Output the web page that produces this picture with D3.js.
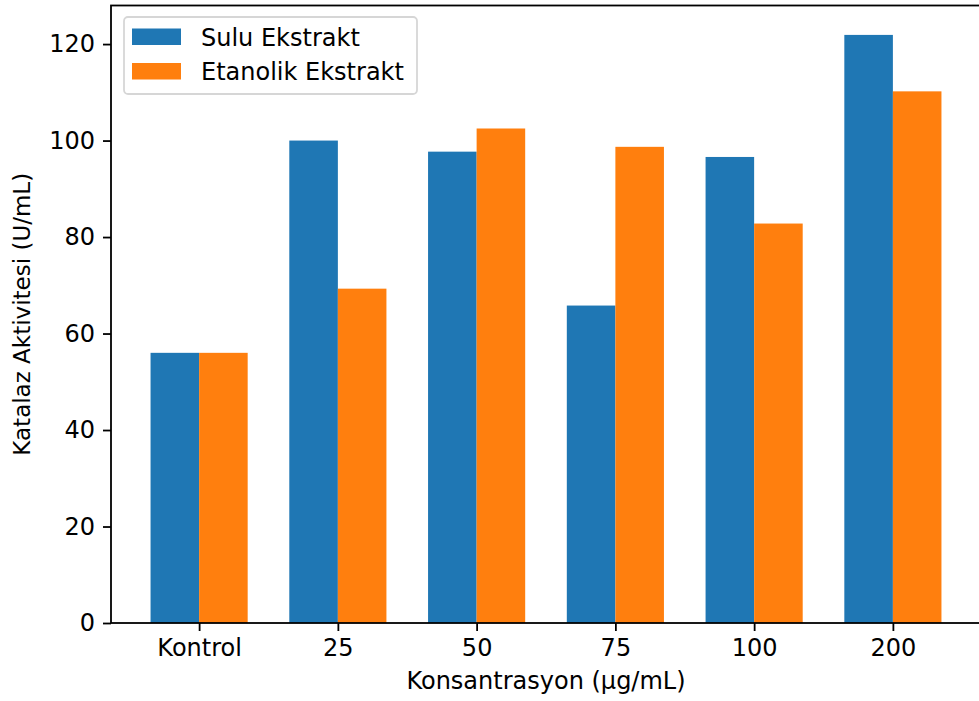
<!DOCTYPE html>
<html>
<head>
<meta charset="utf-8">
<script src="https://cdn.jsdelivr.net/npm/d3@7"></script>
<style>
  body { margin: 0; background: #fff; }
  svg { display: block; font-family: "DejaVu Sans", sans-serif; }
  .axis path, .axis line { stroke: #000; }
  .axis text { fill: #000; }
</style>
</head>
<body>
<div id="chart"><svg></svg></div>
<script>
// Data
const categories = ["Kontrol", "25", "50", "75", "100", "200"];
const seriesNames = ["Sulu Ekstrakt", "Etanolik Ekstrakt"];
const suluValues = [56.0, 100.0, 97.7, 65.8, 96.6, 121.9];
const etanolikValues = [56.0, 69.3, 102.5, 98.7, 82.8, 110.2];
const yTicks = [0, 20, 40, 60, 80, 100, 120];

const colors = ["#1f77b4", "#ff7f0e"];

// Set the dimensions of the canvas / graph
const width = 979;
const height = 701;
const margin = { top: 5.5, right: -2, bottom: 78, left: 111 };
const innerWidth = width - margin.left - margin.right;
const innerHeight = height - margin.top - margin.bottom;
const fontSize = 23;
const wideFont = 24; // horizontal text in the picture is a bit stretched
const barWidth = 0.35;

// x is a linear index scale, like matplotlib's bar positions
const xScale = d3
  .scaleLinear()
  .domain([-0.635, categories.length - 1 + 0.635])
  .range([0, innerWidth]);
const yScale = d3
  .scaleLinear()
  .domain([0, d3.max(suluValues.concat(etanolikValues)) * 1.05])
  .range([innerHeight, 0]);

const svg = d3
  .select("#chart > svg")
  .attr("width", width)
  .attr("height", height);

const g = svg
  .append("g")
  .attr("transform", `translate(${margin.left},${margin.top})`);

// bars, one group per series
const series = [suluValues, etanolikValues];
series.forEach((values, s) => {
  const offset = s === 0 ? -barWidth / 2 : barWidth / 2;
  g.append("g")
    .selectAll("rect")
    .data(values)
    .enter()
    .append("rect")
    .attr("x", (d, i) => xScale(i + offset - barWidth / 2))
    .attr("y", (d) => yScale(d))
    .attr("width", xScale(barWidth) - xScale(0))
    .attr("height", (d) => yScale(0) - yScale(d))
    .attr("fill", colors[s]);
});

// X axis
const xAxis = g
  .append("g")
  .attr("class", "axis")
  .attr("transform", `translate(0,${innerHeight})`)
  .call(
    d3
      .axisBottom(xScale)
      .tickValues(d3.range(categories.length))
      .tickFormat((i) => categories[i])
      .tickSizeInner(8)
      .tickSizeOuter(0)
      .tickPadding(8)
  );
xAxis.select(".domain").remove();
xAxis.selectAll("line").attr("stroke-width", 1.8);
xAxis.selectAll("text").attr("font-size", wideFont).attr("font-family", "DejaVu Sans");

// Y axis
const yAxis = g
  .append("g")
  .attr("class", "axis")
  .call(
    d3
      .axisLeft(yScale)
      .tickValues(yTicks)
      .tickSizeInner(8)
      .tickSizeOuter(0)
      .tickPadding(8)
  );
yAxis.select(".domain").remove();
yAxis.selectAll("line").attr("stroke-width", 1.8);
yAxis.selectAll("text").attr("font-size", wideFont).attr("font-family", "DejaVu Sans");

// spines (right one falls just outside the picture)
g.append("rect")
  .attr("x", 0)
  .attr("y", 0)
  .attr("width", innerWidth)
  .attr("height", innerHeight)
  .attr("fill", "none")
  .attr("stroke", "#000")
  .attr("stroke-width", 1.8);

// X Label
g.append("text")
  .attr("x", innerWidth / 2)
  .attr("y", innerHeight + 66)
  .attr("text-anchor", "middle")
  .attr("font-size", wideFont)
  .attr("fill", "#000")
  .text("Konsantrasyon (µg/mL)");

// Y Label
g.append("text")
  .attr("text-anchor", "middle")
  .attr("transform", "rotate(-90)")
  .attr("x", -innerHeight / 2) // behaves like y because of the rotate
  .attr("y", -81)
  .attr("font-size", fontSize)
  .attr("fill", "#000")
  .text("Katalaz Aktivitesi (U/mL)");

// Legend
const legend = g.append("g").attr("transform", "translate(13,11.5)");
legend
  .append("rect")
  .attr("width", 293)
  .attr("height", 77)
  .attr("rx", 4)
  .attr("fill", "#fff")
  .attr("fill-opacity", 0.8)
  .attr("stroke", "#cccccc")
  .attr("stroke-opacity", 0.8)
  .attr("stroke-width", 1.8);

const items = legend
  .selectAll(".item")
  .data(seriesNames)
  .enter()
  .append("g")
  .attr("class", "item")
  .attr("transform", (d, i) => `translate(8,${11.5 + i * 34.5})`);
items
  .append("rect")
  .attr("width", 49)
  .attr("height", 16.5)
  .attr("fill", (d, i) => colors[i]);
items
  .append("text")
  .attr("x", 69)
  .attr("y", 17)
  .attr("font-size", wideFont)
  .attr("fill", "#000")
  .text((d) => d);
</script>
</body>
</html>
